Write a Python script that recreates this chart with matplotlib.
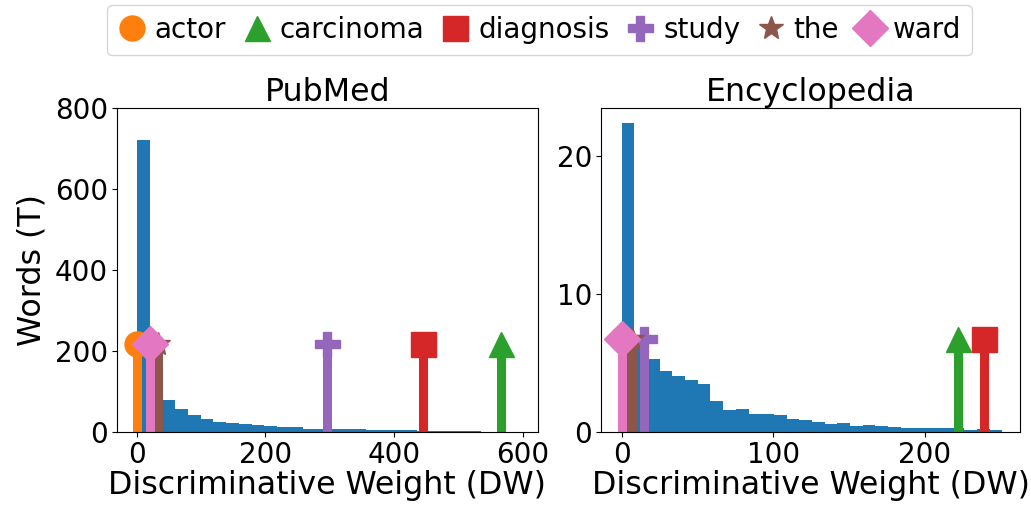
import numpy as np
import matplotlib
matplotlib.use("Agg")
import matplotlib.pyplot as plt
from matplotlib.lines import Line2D

# ---------------- data ----------------
words = ["actor", "carcinoma", "diagnosis", "study", "the", "ward"]
markers = ["o", "^", "s", "P", "*", "D"]
colors = ["tab:orange", "tab:green", "tab:red", "tab:purple", "tab:brown", "tab:pink"]

pub_max_dw = 595.0
pub_counts = [722, 150, 78, 56, 41, 31, 24, 21, 19, 16.5,
              14, 11.5, 11.5, 8, 8, 6.5, 6.5, 6.5, 4, 4,
              4, 4, 1.6, 1.6, 1.6, 1.6, 1.6, 0.3, 0.3, 0.3]
pub_word_dw = [0, 566, 445, 296, 33, 20]
pub_marker_y = 217

enc_max_dw = 251.0
enc_counts = [22.35, 7.0, 5.28, 4.4, 4.04, 3.75, 3.46, 2.23, 1.57, 1.65,
              1.28, 1.28, 1.21, 0.92, 0.85, 0.70, 0.58, 0.63, 0.41, 0.48,
              0.41, 0.34, 0.27, 0.27, 0.27, 0.27, 0.27, 0.12, 0.19, 0.12]
enc_word_dw = [0, 222, 239, 15, 7, 0.4]
enc_marker_y = 6.7

titles = ["PubMed", "Encyclopedia"]
xlabel = "Discriminative Weight (DW)"
ylabel = "Words (T)"

# ---------------- figure ----------------
fig = plt.figure(figsize=(10.31, 5.09), dpi=100)
ax1 = fig.add_axes([117 / 1031, 1 - 432 / 509, (538 - 117) / 1031, (432 - 108) / 509])
ax2 = fig.add_axes([601 / 1031, 1 - 432 / 509, (1020 - 601) / 1031, (432 - 108) / 509])

TICK = 20
LAB = 22.8
LEG = 20


def draw(ax, counts, max_dw, word_dw, my, title):
    edges = np.linspace(0, max_dw, len(counts) + 1)
    ax.bar(edges[:-1], counts, width=np.diff(edges), align="edge",
           color="tab:blue", linewidth=0, zorder=1)
    for w, x, m, c in zip(words, word_dw, markers, colors):
        ax.vlines(x, 0, my, colors=c, linewidth=6.5, zorder=2)
        ax.plot([x], [my], marker=m, markersize=18, color=c, linestyle="none",
                zorder=3, label=w)
    ax.set_title(title, fontsize=LAB, pad=5)
    ax.set_xlabel(xlabel, fontsize=LAB, labelpad=1)
    ax.tick_params(labelsize=TICK, pad=3)


draw(ax1, pub_counts, pub_max_dw, pub_word_dw, pub_marker_y, titles[0])
draw(ax2, enc_counts, enc_max_dw, enc_word_dw, enc_marker_y, titles[1])

ax1.set_xlim(-31, 624)
ax1.set_ylim(0, 800)
ax1.set_xticks([0, 200, 400, 600])
ax1.set_yticks([0, 200, 400, 600, 800])
ax1.set_ylabel(ylabel, fontsize=LAB, labelpad=5)

ax2.set_xlim(-13.6, 262.7)
ax2.set_ylim(0, max(enc_counts) * 1.05)
ax2.set_xticks([0, 100, 200])
ax2.set_yticks([0, 10, 20])

handles = [Line2D([], [], marker=m, color=c, linestyle="none", markersize=18)
           for m, c in zip(markers, colors)]
fig.legend(handles, words, loc="upper center", ncol=6,
           bbox_to_anchor=(539.5 / 1031, 0.99), fontsize=LEG,
           handlelength=1.0, handletextpad=0.33, columnspacing=0.6,
           borderpad=0.4, borderaxespad=0.0)

fig.savefig("out.png", dpi=100)
